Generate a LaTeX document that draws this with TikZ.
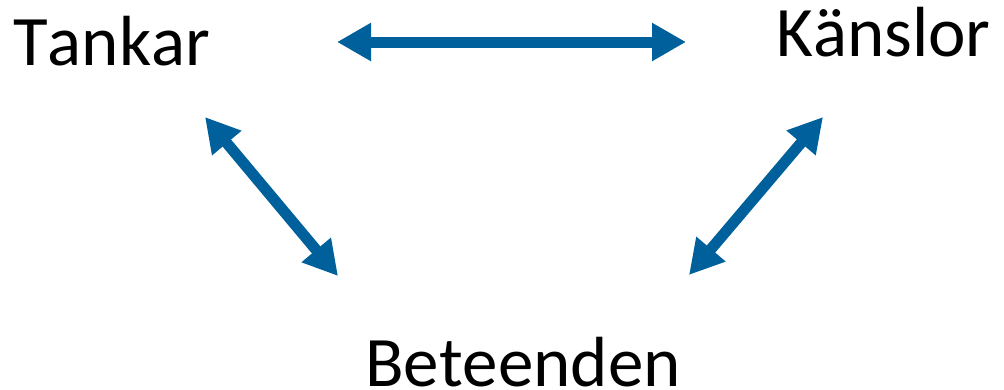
\documentclass[tikz,border=0pt]{standalone}
\usepackage{fontspec}
\setmainfont{Carlito}
\usetikzlibrary{arrows.meta}
\definecolor{arrowblue}{RGB}{0,96,156}
\begin{document}
\begin{tikzpicture}[x=1pt,y=-1pt,
  lbl/.style={anchor=base west,inner sep=0pt,font=\fontsize{71}{84}\selectfont\addfontfeature{Kerning=Off}},
  dbl/.style={draw=arrowblue,line width=11pt,{Triangle[length=34pt,width=36pt]}-{Triangle[length=34pt,width=36pt]}}]
\useasboundingbox (0,0) rectangle (1004,389);
\node[lbl] (tankar) at (13,65) {Tankar};
\node[lbl] (kanslor) at (776,56) {Känslor};
\node[lbl] (beteenden) at (365,386) {Beteenden};
\coordinate (h1) at (337,42);
\coordinate (h2) at (686,42);
\coordinate (l1) at (205,117);
\coordinate (l2) at (338,276);
\coordinate (r1) at (823,117);
\coordinate (r2) at (689,275);
\draw[dbl] (h1) -- (h2);
\draw[dbl] (l1) -- (l2);
\draw[dbl] (r1) -- (r2);
\end{tikzpicture}
\end{document}
